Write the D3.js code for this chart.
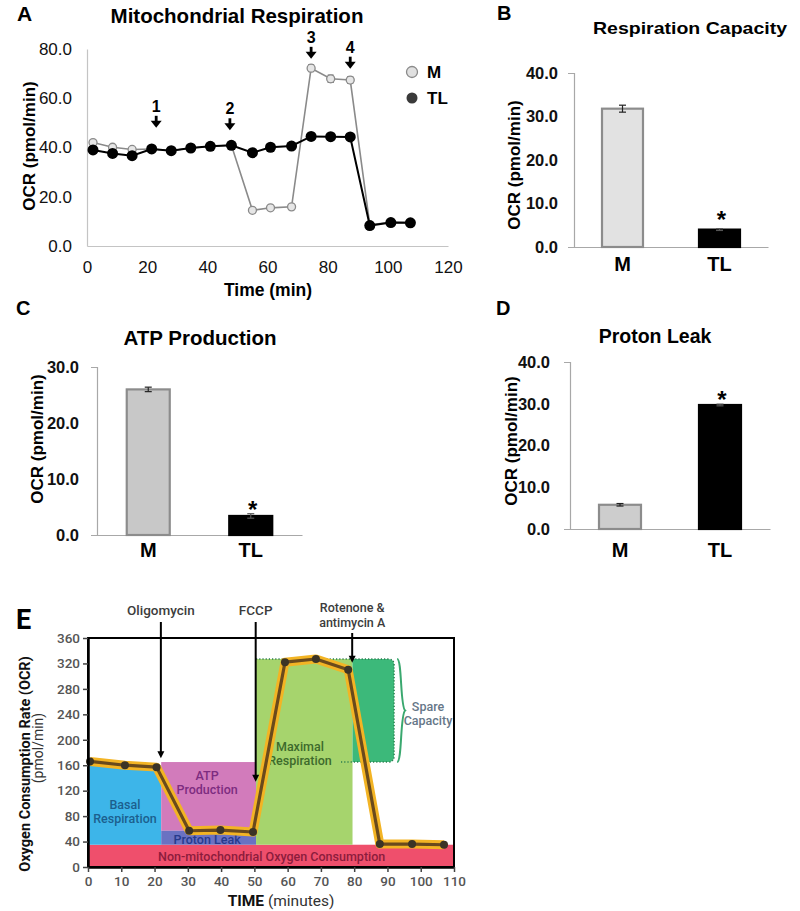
<!DOCTYPE html>
<html><head><meta charset="utf-8">
<script src="https://cdn.jsdelivr.net/npm/d3@7"></script>
<style>body{margin:0;background:#fff} svg{display:block}</style>
</head><body><svg id="c" width="800" height="911"></svg>
<script>
// ---------------- DATA ----------------
// Panel A: Mitochondrial Respiration (time course)
const timesA = [2, 8.5, 15, 21.5, 28, 34.5, 41, 48, 55, 61, 68, 74.5, 81, 87.5, 94, 101, 107.5];
const ocrM  = [42.0, 40.1, 39.2, 39.4, 38.7, 39.8, 40.5, 40.9, 14.5, 15.5, 15.9, 72.2, 67.9, 67.4, 8.6, 9.6, 9.5];
const errM  = [0.6, 0.5, 0.5, 0.5, 0.5, 0.5, 0.5, 0.5, 0.6, 0.6, 0.6, 1.4, 1.5, 1.4, 0.4, 0.4, 0.4];
const ocrTL = [39.0, 37.6, 36.7, 39.4, 38.7, 39.8, 40.5, 40.9, 37.9, 40.1, 40.6, 44.5, 44.4, 44.3, 8.3, 9.5, 9.4];
const seriesNames = ["M", "TL"];
const injLabelsA = ["1", "2", "3", "4"];
const injTimesA = [23, 47.5, 74.5, 87.5];
const injTipsA = [48, 47, 76, 72];
const xTicksA = [0, 20, 40, 60, 80, 100, 120];
const yTicksA = [0, 20, 40, 60, 80];

// Panels B, C, D: bar charts
const groups = ["M", "TL"];
const capacityVals = [31.8, 4.0], capacityErr = [0.8, 0.2];
const atpVals = [26.0, 3.4], atpErr = [0.4, 0.4];
const leakVals = [5.8, 29.7], leakErr = [0.3, 0.2];
const significant = [false, true];
const yTicks40 = [0, 10, 20, 30, 40];
const yTicks30 = [0, 10, 20, 30];

// Panel E: schematic
const eTimes = [0.6, 11.1, 20.6, 30.4, 39.8, 49.6, 59.2, 68.5, 78.2, 87.7, 97.4, 107];
const eOCR   = [166, 160, 157, 57, 58, 55, 322, 327, 310, 36, 36, 35];
const regionNames = ["Non-mitochondrial", "Basal", "ATP", "Proton", "Maximal"];
const regionT0 = [0, 0, 22, 22, 50.5];
const regionT1 = [110, 22, 50.5, 50.5, 79.5];
const regionLow = [0, 35, 57, 35, 35];
const regionHigh = [35, 160, 165, 57, 327];
const spareT = [79.5, 92], spareOCR = [165, 327];
const injNamesE = [["Oligomycin"], ["FCCP"], ["Rotenone &", "antimycin A"]];
const injTimesE = [21.9, 50.4, 79.4];
const injTipsE = [171, 134, 321];
const xTicksE = d3.range(0, 111, 10);
const yTicksE = d3.range(0, 361, 40);

// ---------------- DRAW ----------------
const svg = d3.select("#c");
const AR = "Liberation Sans, Arial, sans-serif";
const RB = "Roboto, sans-serif";

function txt(g, x, y, s, size, weight, anchor, fill, family) {
  return g.append("text").attr("x", x).attr("y", y).text(s)
    .attr("font-size", size).attr("font-weight", weight || "normal")
    .attr("text-anchor", anchor || "start").attr("fill", fill || "#000")
    .attr("font-family", family || AR);
}
function rotLabel(g, x, y, s, size, weight, fill, family) {
  return g.append("text").attr("transform", `translate(${x},${y}) rotate(-90)`)
    .attr("text-anchor", "middle").text(s).attr("font-size", size)
    .attr("font-weight", weight || "bold").attr("fill", fill || "#000")
    .attr("font-family", family || AR);
}

// ===== Panel A =====
{
  const g = svg.append("g");
  const x = d3.scaleLinear().domain([0, 120]).range([87, 448]);
  const y = d3.scaleLinear().domain([0, 80]).range([246, 49]);
  const ax = g.append("g").attr("transform", "translate(0,246)")
    .call(d3.axisBottom(x).tickValues(xTicksA).tickSize(0).tickPadding(15).tickFormat(d3.format("d")));
  const ay = g.append("g").attr("transform", "translate(87,0)")
    .call(d3.axisLeft(y).tickValues(yTicksA).tickSize(0).tickPadding(15).tickFormat(d3.format(".1f")));
  [ax, ay].forEach(a => {
    a.select(".domain").attr("stroke", "#c4c4c4").attr("stroke-width", 1.2);
    a.selectAll("text").attr("font-size", 17).attr("font-family", AR).attr("fill", "#111");
  });
  const line = d3.line().x((d, i) => x(timesA[i])).y(d => y(d));
  // M series
  g.append("path").datum(ocrM).attr("d", line).attr("fill", "none").attr("stroke", "#8a8a8a").attr("stroke-width", 1.6);
  ocrM.forEach((v, i) => {
    const cx = x(timesA[i]);
    g.append("line").attr("x1", cx).attr("x2", cx).attr("y1", y(v - errM[i])).attr("y2", y(v + errM[i])).attr("stroke", "#555");
    [v - errM[i], v + errM[i]].forEach(e => g.append("line").attr("x1", cx - 3).attr("x2", cx + 3).attr("y1", y(e)).attr("y2", y(e)).attr("stroke", "#555"));
  });
  g.selectAll(".mdot").data(ocrM).join("circle").attr("cx", (d, i) => x(timesA[i])).attr("cy", d => y(d))
    .attr("r", 4).attr("fill", "#e6e6e6").attr("stroke", "#8a8a8a").attr("stroke-width", 1.3);
  // TL series
  g.append("path").datum(ocrTL).attr("d", line).attr("fill", "none").attr("stroke", "#000").attr("stroke-width", 2);
  g.selectAll(".tdot").data(ocrTL).join("circle").attr("cx", (d, i) => x(timesA[i])).attr("cy", d => y(d))
    .attr("r", 5.5).attr("fill", "#000");
  // injection arrows
  injTimesA.forEach((t, i) => {
    const cx = x(t), ty = y(injTipsA[i]);
    g.append("line").attr("x1", cx).attr("x2", cx).attr("y1", ty - 12).attr("y2", ty - 5).attr("stroke", "#000").attr("stroke-width", 2.8);
    g.append("path").attr("d", `M${cx - 5.5},${ty - 7}L${cx + 5.5},${ty - 7}L${cx},${ty}Z`).attr("fill", "#000");
    txt(g, cx, ty - 16, injLabelsA[i], 16, "bold", "middle");
  });
  // legend
  g.append("circle").attr("cx", 412).attr("cy", 72).attr("r", 5.5).attr("fill", "#e0e0e0").attr("stroke", "#8a8a8a").attr("stroke-width", 1.3);
  g.append("circle").attr("cx", 412).attr("cy", 98).attr("r", 5.5).attr("fill", "#3a3a3a");
  txt(g, 427, 78, seriesNames[0], 17, "bold");
  txt(g, 427, 104, seriesNames[1], 17, "bold");
  txt(g, 237, 23, "Mitochondrial Respiration", 20.5, "bold", "middle");
  txt(g, 17, 21, "A", 21, "bold");
  txt(g, 268, 296, "Time (min)", 17.5, "bold", "middle");
  rotLabel(g, 35, 146, "OCR (pmol/min)", 17);
}

// ===== Bar panels =====
function barPanel(o) {
  const g = svg.append("g");
  const x = d3.scaleBand().domain(groups).range([o.x0, o.x1]);
  const y = d3.scaleLinear().domain([0, o.max]).range([o.yb, o.yt]);
  const ay = g.append("g").attr("transform", `translate(${o.x0},0)`)
    .call(d3.axisLeft(y).tickValues(o.ticks).tickSizeInner(0).tickSizeOuter(6).tickPadding(o.tp).tickFormat(d3.format(".1f")));
  const ax = g.append("g").attr("transform", `translate(0,${o.yb})`)
    .call(d3.axisBottom(x).tickSize(0).tickPadding(o.xp));
  ay.select(".domain").attr("stroke", "#a8a8a8").attr("stroke-width", 1.2);
  ax.select(".domain").attr("stroke", "#a8a8a8").attr("stroke-width", 1.2);
  ay.selectAll("text").attr("font-size", 16.5).attr("font-weight", "bold").attr("font-family", AR).attr("fill", "#111");
  ax.selectAll("text").attr("font-size", 20).attr("font-weight", "bold").attr("font-family", AR).attr("fill", "#000");
  groups.forEach((k, i) => {
    const cx = x(k) + x.bandwidth() / 2, v = o.vals[i], e = o.errs[i];
    g.append("rect").attr("x", cx - o.bw / 2).attr("y", y(v)).attr("width", o.bw).attr("height", o.yb - y(v))
      .attr("fill", i === 0 ? o.mFill : "#000").attr("stroke", i === 0 ? "#8c8c8c" : "#000").attr("stroke-width", 2.2);
    const ec = i === 0 ? "#222" : "#555";
    g.append("line").attr("x1", cx).attr("x2", cx).attr("y1", y(v - e)).attr("y2", y(v + e)).attr("stroke", ec).attr("stroke-width", 1.2);
    g.append("line").attr("x1", cx - 3.5).attr("x2", cx + 3.5).attr("y1", y(v + e)).attr("y2", y(v + e)).attr("stroke", ec).attr("stroke-width", 1.2);
    g.append("line").attr("x1", cx - 3.5).attr("x2", cx + 3.5).attr("y1", y(v - e)).attr("y2", y(v - e)).attr("stroke", ec).attr("stroke-width", 1.2);
    if (significant[i]) txt(g, cx + 2, y(v + e) + o.sdy, "*", 24, "bold", "middle");
  });
  const t = txt(g, o.tx, o.ty, o.title, o.tsize, "bold", "middle");
  if (o.tlen) t.attr("textLength", o.tlen).attr("lengthAdjust", "spacingAndGlyphs");
  txt(g, o.lx, o.ly, o.letter, 20, "bold");
  rotLabel(g, o.ylx, o.yly, "OCR (pmol/min)", 17);
}
barPanel({x0: 574, x1: 768, yt: 73, yb: 247, max: 40, ticks: yTicks40, tp: 16, xp: 10, bw: 41, sdy: -1,
  vals: capacityVals, errs: capacityErr, mFill: "#e2e2e2", title: "Respiration Capacity", tx: 690, ty: 34, tsize: 16.5, tlen: 194,
  letter: "B", lx: 497, ly: 20, ylx: 520, yly: 165});
barPanel({x0: 97, x1: 302, yt: 367, yb: 535, max: 30, ticks: yTicks30, tp: 18, xp: 8, bw: 43, sdy: 4,
  vals: atpVals, errs: atpErr, mFill: "#c8c8c8", title: "ATP Production", tx: 200, ty: 345, tsize: 20.5,
  letter: "C", lx: 16, ly: 315, ylx: 43, yly: 439});
barPanel({x0: 570, x1: 770, yt: 362, yb: 529, max: 40, ticks: yTicks40, tp: 20, xp: 14, bw: 42, sdy: 4,
  vals: leakVals, errs: leakErr, mFill: "#cdcdcd", title: "Proton Leak", tx: 655, ty: 343, tsize: 19.5,
  letter: "D", lx: 496, ly: 315, ylx: 517, yly: 441});

// ===== Panel E =====
{
  const g = svg.append("g");
  const x = d3.scaleLinear().domain([0, 110]).range([88, 454]);
  const y = d3.scaleLinear().domain([0, 360]).range([867, 638]);
  const regionFill = {"Non-mitochondrial": "#ef4f6c", "Basal": "#3db5e9", "ATP": "#d27bbb", "Proton": "#6a72c2", "Maximal": "#a6d46d"};
  regionNames.forEach((n, i) => {
    g.append("rect").attr("x", x(regionT0[i])).attr("y", y(regionHigh[i]))
      .attr("width", x(regionT1[i]) - x(regionT0[i])).attr("height", y(regionLow[i]) - y(regionHigh[i]))
      .attr("fill", regionFill[n]);
  });
  // spare capacity
  const sx0 = x(spareT[0]), sx1 = x(spareT[1]), syt = y(spareOCR[1]), syb = y(spareOCR[0]), r = 6;
  g.append("path").attr("d", `M${sx0},${syt}H${sx1 - r}Q${sx1},${syt} ${sx1},${syt + r}V${syb - r}Q${sx1},${syb} ${sx1 - r},${syb}H${sx0}Z`)
    .attr("fill", "#3cb97a");
  g.append("path").attr("d", `M${x(50.5)},${syt}H${sx1 - r}Q${sx1},${syt} ${sx1},${syt + r}V${syb - r}Q${sx1},${syb} ${sx1 - r},${syb}H${x(75.5)}`)
    .attr("fill", "none").attr("stroke", "#2a7d4e").attr("stroke-width", 1.4).attr("stroke-dasharray", "1.2,2");
  // brace
  const bx = sx1 + 3, bm = (syt + syb) / 2;
  g.append("path").attr("d", `M${bx},${syt}C${bx + 5},${syt} ${bx + 3},${bm - 4} ${bx + 8},${bm}C${bx + 3},${bm + 4} ${bx + 5},${syb} ${bx},${syb}`)
    .attr("fill", "none").attr("stroke", "#3aa86f").attr("stroke-width", 2);
  // region labels
  const lab = (xx, yy, lines, col) => lines.forEach((s, k) =>
    txt(g, xx, yy + k * 14, s, 12.5, 500, "middle", col, RB).attr("dominant-baseline", "central"));
  lab(x(11.1), 804, ["Basal", "Respiration"], "#1c5f8e");
  lab(x(35.8), 775, ["ATP", "Production"], "#7d2c80");
  lab(x(35.8), 839, ["Proton Leak"], "#263a8c");
  lab(x(55.2), 856, ["Non-mitochondrial Oxygen Consumption"], "#8c1c3c");
  lab(x(63.7), 746, ["Maximal", "Respiration"], "#3d6a2c");
  lab(428, 706, ["Spare", "Capacity"], "#667788");
  // OCR trace
  const line = d3.line().x((d, i) => x(eTimes[i])).y(d => y(d));
  g.append("path").datum(eOCR).attr("d", line).attr("fill", "none").attr("stroke", "#f3b424").attr("stroke-width", 9).attr("stroke-linejoin", "round");
  g.append("path").datum(eOCR).attr("d", line).attr("fill", "none").attr("stroke", "#6a4a1c").attr("stroke-width", 3.2).attr("stroke-linejoin", "round");
  g.selectAll(".edot").data(eOCR).join("circle").attr("cx", (d, i) => x(eTimes[i])).attr("cy", d => y(d)).attr("r", 4).attr("fill", "#3b3426");
  // box & axes
  g.append("rect").attr("x", 88).attr("y", 638).attr("width", 454 - 88).attr("height", 867 - 638)
    .attr("fill", "none").attr("stroke", "#000").attr("stroke-width", 2);
  const ay = g.append("g").attr("transform", "translate(88,0)")
    .call(d3.axisLeft(y).tickValues(yTicksE).tickSizeInner(5).tickSizeOuter(0).tickPadding(3));
  const ax = g.append("g").attr("transform", "translate(0,867)")
    .call(d3.axisBottom(x).tickValues(xTicksE).tickSizeInner(5).tickSizeOuter(0).tickPadding(4));
  [ax, ay].forEach(a => {
    a.select(".domain").attr("stroke", "#000").attr("stroke-width", 2.5);
    a.selectAll(".tick line").attr("stroke", "#444").attr("stroke-width", 1.5);
    a.selectAll("text").attr("font-size", 13.5).attr("font-weight", 500).attr("font-family", RB).attr("fill", "#555");
  });
  // injections
  injTimesE.forEach((t, i) => {
    const cx = x(t), ty = y(injTipsE[i]);
    const multi = injNamesE[i].length > 1;
    const top = multi ? 633 : 622;
    g.append("line").attr("x1", cx).attr("x2", cx).attr("y1", top).attr("y2", ty - 5).attr("stroke", "#000").attr("stroke-width", 2);
    g.append("path").attr("d", `M${cx - 3.5},${ty - 7}L${cx + 3.5},${ty - 7}L${cx},${ty}Z`).attr("fill", "#000");
    injNamesE[i].forEach((s, k) => {
      const yy = multi ? 612 + k * 15 : 615;
      txt(g, cx, yy, s, multi ? 12.5 : 13.5, 500, "middle", "#3c3c3c", RB);
    });
  });
  const tl = g.append("text").attr("x", 281).attr("y", 906).attr("text-anchor", "middle").attr("font-family", RB).attr("font-size", 15.5);
  tl.append("tspan").text("TIME").attr("font-weight", "bold").attr("fill", "#111");
  tl.append("tspan").text(" (minutes)").attr("fill", "#333");
  rotLabel(g, 30, 764, "Oxygen Consumption Rate (OCR)", 14.5, "bold", "#111", RB);
  rotLabel(g, 43, 748, "(pmol/min)", 14, "normal", "#333", RB);
  txt(g, 16, 629, "E", 27, "bold", "start", "#000", RB);
}
</script></body></html>
